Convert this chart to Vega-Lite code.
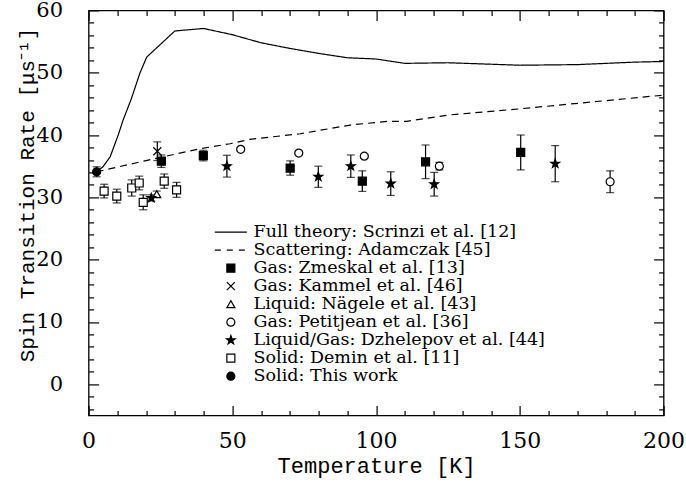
{
  "$schema": "https://vega.github.io/schema/vega-lite/v6.json",
  "autosize": "none",
  "width": 575,
  "height": 405,
  "padding": {"left": 88.6, "top": 10.4, "right": 22.4, "bottom": 71.6},
  "background": "white",
  "config": {
    "view": {"stroke": "black", "strokeWidth": 1.3},
    "legend": {"symbolStrokeColor": "black", "symbolStrokeWidth": 1.2, "symbolOpacity": 1}
  },
  "datasets": {
    "theory": [
      {"series": "Full theory: Scrinzi et al. [12]", "t": 2.8, "rate": 34.1},
      {"series": "Full theory: Scrinzi et al. [12]", "t": 5, "rate": 34.9},
      {"series": "Full theory: Scrinzi et al. [12]", "t": 7.5, "rate": 36.5},
      {"series": "Full theory: Scrinzi et al. [12]", "t": 10.3, "rate": 40.0},
      {"series": "Full theory: Scrinzi et al. [12]", "t": 12, "rate": 42.4},
      {"series": "Full theory: Scrinzi et al. [12]", "t": 14.7, "rate": 45.6},
      {"series": "Full theory: Scrinzi et al. [12]", "t": 17.9, "rate": 50.0},
      {"series": "Full theory: Scrinzi et al. [12]", "t": 20.2, "rate": 52.5},
      {"series": "Full theory: Scrinzi et al. [12]", "t": 30, "rate": 56.7},
      {"series": "Full theory: Scrinzi et al. [12]", "t": 40, "rate": 57.1},
      {"series": "Full theory: Scrinzi et al. [12]", "t": 50, "rate": 56.1},
      {"series": "Full theory: Scrinzi et al. [12]", "t": 60, "rate": 54.8},
      {"series": "Full theory: Scrinzi et al. [12]", "t": 70, "rate": 53.9},
      {"series": "Full theory: Scrinzi et al. [12]", "t": 80, "rate": 53.1},
      {"series": "Full theory: Scrinzi et al. [12]", "t": 90, "rate": 52.4},
      {"series": "Full theory: Scrinzi et al. [12]", "t": 100, "rate": 52.2},
      {"series": "Full theory: Scrinzi et al. [12]", "t": 110, "rate": 51.5},
      {"series": "Full theory: Scrinzi et al. [12]", "t": 125, "rate": 51.6},
      {"series": "Full theory: Scrinzi et al. [12]", "t": 150, "rate": 51.2},
      {"series": "Full theory: Scrinzi et al. [12]", "t": 170, "rate": 51.3},
      {"series": "Full theory: Scrinzi et al. [12]", "t": 190, "rate": 51.7},
      {"series": "Full theory: Scrinzi et al. [12]", "t": 200, "rate": 51.8},
      {"series": "Scattering: Adamczak [45]", "t": 2.8, "rate": 34.1},
      {"series": "Scattering: Adamczak [45]", "t": 20, "rate": 35.9},
      {"series": "Scattering: Adamczak [45]", "t": 38.8, "rate": 37.8},
      {"series": "Scattering: Adamczak [45]", "t": 49.2, "rate": 38.6},
      {"series": "Scattering: Adamczak [45]", "t": 56, "rate": 39.3},
      {"series": "Scattering: Adamczak [45]", "t": 73.6, "rate": 40.2},
      {"series": "Scattering: Adamczak [45]", "t": 91, "rate": 41.6},
      {"series": "Scattering: Adamczak [45]", "t": 104, "rate": 42.2},
      {"series": "Scattering: Adamczak [45]", "t": 110.7, "rate": 42.2},
      {"series": "Scattering: Adamczak [45]", "t": 125, "rate": 43.2},
      {"series": "Scattering: Adamczak [45]", "t": 150, "rate": 44.2},
      {"series": "Scattering: Adamczak [45]", "t": 175, "rate": 45.3},
      {"series": "Scattering: Adamczak [45]", "t": 200, "rate": 46.4}
    ],
    "pts": [
      {"series": "Solid: This work", "t": 2.8, "rate": 34.1, "err": 0.8},
      {"series": "Gas: Zmeskal et al. [13]", "t": 25.3, "rate": 35.8, "err": 1.0},
      {"series": "Gas: Zmeskal et al. [13]", "t": 39.9, "rate": 36.7, "err": 0.85},
      {"series": "Gas: Zmeskal et al. [13]", "t": 70.1, "rate": 34.7, "err": 1.15},
      {"series": "Gas: Zmeskal et al. [13]", "t": 95.2, "rate": 32.6, "err": 1.65},
      {"series": "Gas: Zmeskal et al. [13]", "t": 117.2, "rate": 35.7, "err": 2.7},
      {"series": "Gas: Zmeskal et al. [13]", "t": 150.3, "rate": 37.2, "err": 2.8},
      {"series": "Gas: Kammel et al. [46]", "t": 23.9, "rate": 37.4, "err": 1.5},
      {"series": "Liquid: Nägele et al. [43]", "t": 23.7, "rate": 30.5, "err": 0.5},
      {"series": "Gas: Petitjean et al. [36]", "t": 52.9, "rate": 37.7, "err": 0.3},
      {"series": "Gas: Petitjean et al. [36]", "t": 73.1, "rate": 37.1, "err": 0.3},
      {"series": "Gas: Petitjean et al. [36]", "t": 95.9, "rate": 36.6, "err": 0.3},
      {"series": "Gas: Petitjean et al. [36]", "t": 122, "rate": 35.0, "err": 0.6},
      {"series": "Gas: Petitjean et al. [36]", "t": 181.4, "rate": 32.5, "err": 1.75},
      {"series": "Liquid/Gas: Dzhelepov et al. [44]", "t": 21.8, "rate": 29.9, "err": 0.5},
      {"series": "Liquid/Gas: Dzhelepov et al. [44]", "t": 48.1, "rate": 35.0, "err": 1.75},
      {"series": "Liquid/Gas: Dzhelepov et al. [44]", "t": 79.9, "rate": 33.3, "err": 1.7},
      {"series": "Liquid/Gas: Dzhelepov et al. [44]", "t": 91.2, "rate": 35.0, "err": 1.8},
      {"series": "Liquid/Gas: Dzhelepov et al. [44]", "t": 105.1, "rate": 32.2, "err": 1.9},
      {"series": "Liquid/Gas: Dzhelepov et al. [44]", "t": 120.2, "rate": 32.1, "err": 1.9},
      {"series": "Liquid/Gas: Dzhelepov et al. [44]", "t": 162.3, "rate": 35.4, "err": 2.9},
      {"series": "Solid: Demin et al. [11]", "t": 5.4, "rate": 31.0, "err": 1.1},
      {"series": "Solid: Demin et al. [11]", "t": 9.8, "rate": 30.2, "err": 1.1},
      {"series": "Solid: Demin et al. [11]", "t": 15.0, "rate": 31.5, "err": 1.3},
      {"series": "Solid: Demin et al. [11]", "t": 17.6, "rate": 32.3, "err": 1.1},
      {"series": "Solid: Demin et al. [11]", "t": 19.0, "rate": 29.2, "err": 1.2},
      {"series": "Solid: Demin et al. [11]", "t": 26.3, "rate": 32.6, "err": 1.15},
      {"series": "Solid: Demin et al. [11]", "t": 30.6, "rate": 31.2, "err": 1.2}
    ]
  },
  "resolve": {"axis": {"x": "independent", "y": "independent"}},
  "layer": [
    {
      "data": {"name": "theory"},
      "mark": {"type": "line", "color": "black", "strokeWidth": 1.2},
      "encoding": {
        "x": {
          "field": "t", "type": "quantitative",
          "scale": {"domain": [0, 200], "nice": false, "zero": false},
          "axis": {
            "orient": "bottom",
            "values": [0,10,20,30,40,50,60,70,80,90,100,110,120,130,140,150,160,170,180,190,200],
            "labelExpr": "datum.value % 50 === 0 ? datum.label : ''",
            "tickSize": {"condition": {"test": "datum.value % 50 === 0", "value": -10}, "value": -5},
            "tickColor": "black", "tickWidth": 1.2,
            "domain": false, "grid": false,
            "labelFont": "DejaVu Serif", "labelFontSize": 22, "labelColor": "black",
            "labelPadding": 25, "labelFlush": false, "labelOverlap": false, "labelBound": false,
            "title": "Temperature [K]",
            "titleFont": "Liberation Mono", "titleFontSize": 22, "titleFontWeight": "normal", "titleColor": "black",
            "titleBaseline": "alphabetic", "titleY": 57
          }
        },
        "y": {
          "field": "rate", "type": "quantitative",
          "scale": {"domain": [-5, 60], "nice": false, "zero": false},
          "axis": {
            "orient": "left",
            "values": [-4,-2,0,2,4,6,8,10,12,14,16,18,20,22,24,26,28,30,32,34,36,38,40,42,44,46,48,50,52,54,56,58,60],
            "labelExpr": "datum.value % 10 === 0 ? datum.label : ''",
            "tickSize": {"condition": {"test": "datum.value % 10 === 0", "value": -10}, "value": -5},
            "tickColor": "black", "tickWidth": 1.2,
            "domain": false, "grid": false,
            "labelFont": "DejaVu Serif", "labelFontSize": 21, "labelColor": "black",
            "labelPadding": 36, "labelFlush": false, "labelOverlap": false, "labelBound": false,
            "title": "Spin Transition Rate [μs⁻¹]",
            "titleFont": "Liberation Mono", "titleFontSize": 21, "titleFontWeight": "normal", "titleColor": "black",
            "titleBaseline": "alphabetic", "titleX": -55, "titleY": 184, "titleAlign": "center", "titleAngle": -90
          }
        },
        "strokeDash": {
          "field": "series", "type": "nominal",
          "scale": {"domain": ["Full theory: Scrinzi et al. [12]", "Scattering: Adamczak [45]"], "range": [[1, 0], [7, 5]]},
          "legend": null
        }
      }
    },
    {
      "data": {"name": "pts"},
      "mark": {"type": "errorbar", "color": "black", "thickness": 1.2, "ticks": {"size": 8, "color": "black"}, "rule": {"color": "black", "strokeWidth": 1.2}},
      "encoding": {
        "x": {"field": "t", "type": "quantitative", "axis": null},
        "y": {"field": "rate", "type": "quantitative", "axis": null},
        "yError": {"field": "err"}
      }
    },
    {
      "data": {"name": "pts"},
      "mark": {"type": "point", "stroke": "black", "strokeWidth": 1.2, "opacity": 1, "size": 64},
      "encoding": {
        "x": {"field": "t", "type": "quantitative", "axis": null},
        "y": {"field": "rate", "type": "quantitative", "axis": null},
        "shape": {
          "field": "series", "type": "nominal",
          "scale": {
            "domain": ["Full theory: Scrinzi et al. [12]", "Scattering: Adamczak [45]", "Gas: Zmeskal et al. [13]", "Gas: Kammel et al. [46]", "Liquid: Nägele et al. [43]", "Gas: Petitjean et al. [36]", "Liquid/Gas: Dzhelepov et al. [44]", "Solid: Demin et al. [11]", "Solid: This work"],
            "range": ["M-4,0L4,0", "M-4,0L-2.5,0M-1,0L0.5,0M2,0L3.5,0", "square", "M-1,-1L1,1M-1,1L1,-1", "triangle-up", "circle", "M0,-1.15L0.27,-0.37L1.09,-0.36L0.44,0.14L0.68,0.93L0,0.46L-0.68,0.93L-0.44,0.14L-1.09,-0.36L-0.27,-0.37Z", "square", "circle"]
          },
          "legend": {
            "title": null, "orient": "none", "legendX": 133.5, "legendY": 213,
            "padding": 0, "labelFont": "DejaVu Serif", "labelFontSize": 17.5, "labelColor": "black",
            "labelOffset": 14, "rowPadding": -1.3, "symbolSize": 64, "labelLimit": 400,
            "symbolStrokeColor": "black", "symbolStrokeWidth": 1.2,
            "encode": {"symbols": {"update": {"stroke": {"value": "black"}, "strokeWidth": {"value": 1.2}, "opacity": {"value": 1}}}}
          }
        },
        "fill": {
          "field": "series", "type": "nominal",
          "scale": {
            "domain": ["Full theory: Scrinzi et al. [12]", "Scattering: Adamczak [45]", "Gas: Zmeskal et al. [13]", "Gas: Kammel et al. [46]", "Liquid: Nägele et al. [43]", "Gas: Petitjean et al. [36]", "Liquid/Gas: Dzhelepov et al. [44]", "Solid: Demin et al. [11]", "Solid: This work"],
            "range": ["white", "white", "black", "white", "white", "white", "black", "white", "black"]
          },
          "legend": {
            "title": null, "orient": "none", "legendX": 133.5, "legendY": 213,
            "padding": 0, "labelFont": "DejaVu Serif", "labelFontSize": 17.5, "labelColor": "black",
            "labelOffset": 14, "rowPadding": -1.3, "symbolSize": 64, "labelLimit": 400,
            "symbolStrokeColor": "black", "symbolStrokeWidth": 1.2,
            "encode": {"symbols": {"update": {"stroke": {"value": "black"}, "strokeWidth": {"value": 1.2}, "opacity": {"value": 1}}}}
          }
        }
      }
    },
    {
      "data": {"name": "theory"},
      "mark": {"type": "line", "strokeOpacity": 0},
      "encoding": {
        "x": {
          "field": "t", "type": "quantitative",
          "axis": {
            "orient": "top",
            "values": [0,10,20,30,40,50,60,70,80,90,100,110,120,130,140,150,160,170,180,190,200],
            "labels": false, "title": null, "domain": false, "grid": false,
            "tickSize": {"condition": {"test": "datum.value % 50 === 0", "value": -10}, "value": -5},
            "tickColor": "black", "tickWidth": 1.2
          }
        },
        "y": {
          "field": "rate", "type": "quantitative",
          "axis": {
            "orient": "right",
            "values": [-4,-2,0,2,4,6,8,10,12,14,16,18,20,22,24,26,28,30,32,34,36,38,40,42,44,46,48,50,52,54,56,58,60],
            "labels": false, "title": null, "domain": false, "grid": false,
            "tickSize": {"condition": {"test": "datum.value % 10 === 0", "value": -10}, "value": -5},
            "tickColor": "black", "tickWidth": 1.2
          }
        }
      }
    }
  ]
}
